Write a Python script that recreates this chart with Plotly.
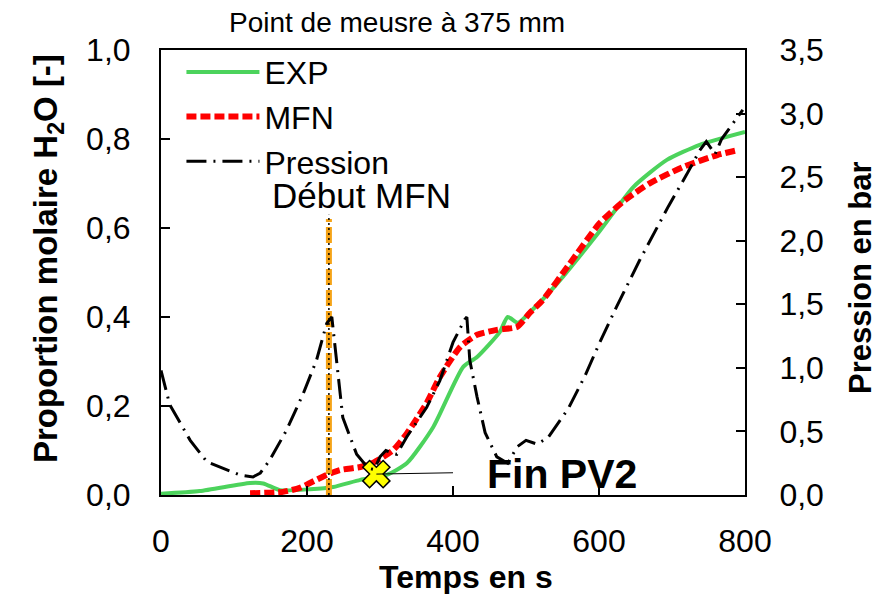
import plotly.graph_objects as go

# ---- data ----
t_exp = [0, 53, 122, 140, 163, 204, 236, 273, 309, 337, 373, 414, 433, 464, 475, 489, 505,
         540, 600, 647, 693, 738, 800]
exp = [0.003, 0.009, 0.027, 0.026, 0.011, 0.013, 0.018, 0.034, 0.045, 0.072, 0.153, 0.288,
       0.31, 0.366, 0.40, 0.387, 0.41, 0.47, 0.591, 0.692, 0.753, 0.787, 0.816]

t_mfn = [122, 167, 190, 204, 227, 245, 273, 290, 318, 337, 364, 382, 410, 433, 460, 488,
         505, 523, 560, 601, 636, 670, 715, 762, 790]
mfn = [0.004, 0.007, 0.016, 0.027, 0.045, 0.056, 0.063, 0.072, 0.101, 0.139, 0.207, 0.265,
       0.333, 0.36, 0.371, 0.378, 0.409, 0.438, 0.52, 0.611, 0.663, 0.701, 0.737, 0.764, 0.775]

t_p = [0, 12, 40, 63, 108, 126, 136, 149, 172, 195, 213, 227, 234, 241, 249, 268, 284, 292,
       300, 308, 316, 323, 337, 364, 382, 400, 416, 419, 423, 433, 444, 460, 475, 488, 500,
       515, 530, 558, 581, 601, 624, 656, 670, 695, 720, 738, 747, 759, 768, 797]
p = [0.98, 0.71, 0.43, 0.26, 0.157, 0.142, 0.173, 0.275, 0.51, 0.80, 1.06, 1.35, 1.40, 1.01,
     0.61, 0.32, 0.21, 0.20, 0.30, 0.35, 0.33, 0.32, 0.46, 0.69, 0.90, 1.20, 1.38, 1.40, 1.06,
     0.77, 0.49, 0.30, 0.25, 0.38, 0.43, 0.40, 0.45, 0.68, 0.94, 1.20, 1.48, 1.85, 2.0, 2.27,
     2.52, 2.71, 2.78, 2.68, 2.80, 3.03]

debut_t = [230, 230]
debut_y = [0.0, 0.62]
debut_y_dot = [0.0, 0.63]
fin_t = [295]
fin_y = [0.047]

x_ticks = [0, 200, 400, 600, 800]
y_ticks = [0, 0.2, 0.4, 0.6, 0.8, 1.0]
y2_ticks = [0, 0.5, 1.0, 1.5, 2.0, 2.5, 3.0, 3.5]

FONT = "Liberation Sans, Arial, sans-serif"

fig = go.Figure()
fig.add_trace(go.Scatter(x=t_exp, y=exp, name="EXP", mode="lines",
                         line=dict(color="#4CD35C", width=4, shape="spline", smoothing=0.6)))
fig.add_trace(go.Scatter(x=t_mfn, y=mfn, name="MFN", mode="lines",
                         line=dict(color="#FF0000", width=6, dash="10px,4px",
                                   shape="spline", smoothing=0.6)))
fig.add_trace(go.Scatter(x=debut_t, y=debut_y, mode="lines", showlegend=False,
                         hoverinfo="skip",
                         line=dict(color="#F5A316", width=6, dash="16px,5px")))
fig.add_trace(go.Scatter(x=debut_t, y=debut_y_dot, mode="lines", showlegend=False,
                         hoverinfo="skip",
                         line=dict(color="#000000", width=1.5, dash="2px,3px")))
fig.add_trace(go.Scatter(x=t_p, y=p, name="Pression", mode="lines", yaxis="y2",
                         line=dict(color="#000000", width=3, dash="20px,7px,2px,7px")))
fig.add_trace(go.Scatter(x=fin_t, y=fin_y, mode="markers", showlegend=False,
                         marker=dict(symbol="x", size=24, color="#FFFF00",
                                     line=dict(color="#000000", width=1.5))))

axis_common = dict(showline=True, linecolor="black", linewidth=2, ticks="inside",
                   ticklen=9, tickwidth=2, tickcolor="black", showgrid=False,
                   zeroline=False, automargin=False,
                   tickfont=dict(family=FONT, size=32, color="black"))

# page body has an 8px margin: figure is drawn 8px right/down, so size it 887x586
fig.update_layout(
    width=887, height=586,
    margin=dict(l=153, r=150, t=42, b=99),
    paper_bgcolor="white", plot_bgcolor="white",
    separators=", ",
    font=dict(family=FONT, color="black"),
    showlegend=True,
    legend=dict(x=0.035, y=1.012, xanchor="left", yanchor="top",
                bgcolor="rgba(0,0,0,0)", font=dict(family=FONT, size=32),
                itemwidth=73, tracegroupgap=0),
    xaxis=dict(range=[0, 800], tickvals=x_ticks, mirror=True, ticklabelstandoff=17,
               **axis_common),
    yaxis=dict(range=[0, 1.0], tickvals=y_ticks, tickformat=".1f", ticklabelstandoff=22,
               **axis_common),
    yaxis2=dict(range=[0, 3.5], tickvals=y2_ticks, tickformat=".1f", overlaying="y",
                side="right", ticklabelstandoff=26, **axis_common),
    shapes=[dict(type="line", xref="x", yref="y", x0=fin_t[0], y0=fin_y[0], x1=400, y1=0.05,
                 line=dict(color="black", width=1))],
    annotations=[
        dict(text="Point de meusre à 375 mm", xref="paper", yref="paper",
             x=(397 - 161) / 584, y=1 + 28 / 445, xanchor="center", yanchor="middle",
             showarrow=False, borderpad=0, font=dict(family=FONT, size=28)),
        dict(text="Proportion molaire H<sub>2</sub>O [-]", xref="paper", yref="paper",
             x=(48 - 161) / 584, y=(495 - 259) / 445, textangle=-90, xanchor="center",
             yanchor="middle", showarrow=False,
             font=dict(family=FONT, size=33, weight="bold")),
        dict(text="Pression en bar", xref="paper", yref="paper",
             x=(860 - 161) / 584, y=(495 - 278) / 445, textangle=-90, xanchor="center",
             yanchor="middle", showarrow=False,
             font=dict(family=FONT, size=31, weight="bold")),
        dict(text="Temps en s", xref="paper", yref="paper",
             x=(466 - 161) / 584, y=-(577 - 495) / 445, xanchor="center", yanchor="middle",
             showarrow=False, borderpad=0, font=dict(family=FONT, size=32, weight="bold")),
        dict(text="Début MFN", xref="x", yref="y", x=275, y=0.674,
             xanchor="center", yanchor="middle", showarrow=False,
             font=dict(family=FONT, size=35)),
        dict(text="Fin PV2", xref="x", yref="y", x=549, y=0.047,
             xanchor="center", yanchor="middle", showarrow=False,
             font=dict(family=FONT, size=41, weight="bold")),
    ],
)

fig.write_html("out.html")
